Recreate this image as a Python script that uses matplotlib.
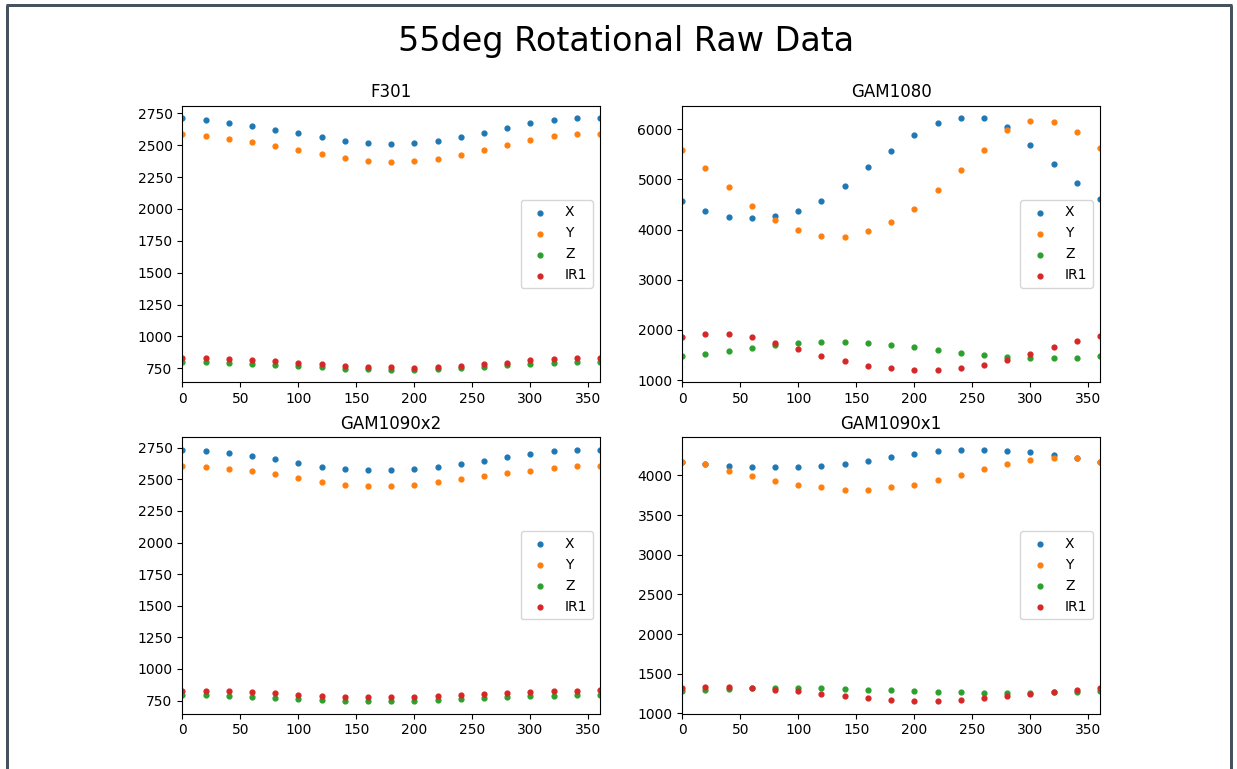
import numpy as np
import matplotlib
matplotlib.use('Agg')
import matplotlib.pyplot as plt
from matplotlib.lines import Line2D

# angle of rotation (deg)
angles = np.arange(0, 361, 20)

# F301
f301_x = [2711, 2695, 2671, 2650, 2619, 2595, 2564, 2532, 2517, 2509,
          2517, 2532, 2564, 2595, 2635, 2671, 2695, 2711, 2711]
f301_y = [2587, 2572, 2548, 2525, 2493, 2462, 2433, 2401, 2378, 2370,
          2378, 2394, 2425, 2462, 2501, 2540, 2572, 2587, 2587]
f301_z = [803, 803, 795, 787, 779, 771, 763, 748, 748, 740,
          740, 748, 755, 763, 779, 787, 795, 803, 803]
f301_ir = [834, 834, 826, 818, 808, 795, 787, 771, 763, 763,
           755, 763, 771, 787, 795, 818, 826, 834, 834]

# GAM1080
g1080_x = [4579, 4378, 4257, 4237, 4278, 4378, 4579, 4874, 5249, 5564,
           5886, 6121, 6221, 6221, 6047, 5685, 5310, 4934, 4613]
g1080_y = [5591, 5229, 4854, 4479, 4184, 3983, 3882, 3862, 3963, 4144,
           4418, 4794, 5189, 5591, 5987, 6161, 6141, 5946, 5625]
g1080_z = [1483, 1523, 1583, 1644, 1704, 1737, 1758, 1758, 1737, 1704,
           1664, 1603, 1543, 1503, 1463, 1443, 1443, 1443, 1483]
g1080_ir = [1858, 1918, 1918, 1858, 1737, 1624, 1483, 1382, 1282, 1242,
            1208, 1208, 1242, 1302, 1402, 1523, 1664, 1778, 1879]

# GAM1090x2
g1090x2_x = [2734, 2726, 2710, 2687, 2663, 2631, 2599, 2584, 2576, 2576,
             2584, 2599, 2623, 2647, 2679, 2702, 2726, 2734, 2734]
g1090x2_y = [2607, 2599, 2584, 2568, 2539, 2507, 2475, 2459, 2451, 2451,
             2459, 2475, 2499, 2523, 2547, 2568, 2591, 2607, 2607]
g1090x2_z = [792, 792, 784, 776, 768, 761, 753, 745, 745, 745,
             745, 753, 761, 768, 776, 784, 784, 792, 792]
g1090x2_ir = [824, 824, 824, 816, 808, 792, 784, 776, 776, 776,
              776, 784, 792, 800, 808, 816, 824, 824, 832]

# GAM1090x1
g1090x1_x = [4173, 4147, 4122, 4109, 4109, 4109, 4122, 4147, 4185, 4236,
             4274, 4311, 4324, 4324, 4311, 4299, 4261, 4223, 4173]
g1090x1_y = [4173, 4147, 4059, 3996, 3933, 3886, 3849, 3823, 3823, 3849,
             3886, 3945, 4008, 4084, 4147, 4198, 4223, 4223, 4173]
g1090x1_z = [1282, 1294, 1307, 1320, 1320, 1320, 1320, 1307, 1294, 1294,
             1282, 1269, 1269, 1256, 1256, 1256, 1269, 1269, 1282]
g1090x1_ir = [1320, 1332, 1332, 1320, 1294, 1282, 1244, 1219, 1193, 1172,
              1155, 1155, 1172, 1193, 1219, 1244, 1269, 1294, 1320]

titles = ['F301', 'GAM1080', 'GAM1090x2', 'GAM1090x1']
sensors = [
    (f301_x, f301_y, f301_z, f301_ir),
    (g1080_x, g1080_y, g1080_z, g1080_ir),
    (g1090x2_x, g1090x2_y, g1090x2_z, g1090x2_ir),
    (g1090x1_x, g1090x1_y, g1090x1_z, g1090x1_ir),
]
labels = ['X', 'Y', 'Z', 'IR1']

fig, axes = plt.subplots(2, 2, figsize=(12.37, 7.69), dpi=100)
fig.subplots_adjust(left=0.1474, right=0.8892, top=0.8626, bottom=0.0719,
                    wspace=0.197, hspace=0.199)

for ax, title, series in zip(axes.flat, titles, sensors):
    for vals, lab in zip(series, labels):
        ax.scatter(angles, vals, s=12, label=lab)
    ax.set_title(title)
    ax.set_xlim(0, 360)
    ax.legend(loc='center right')

fig.suptitle('55deg Rotational Raw Data', fontsize=24, x=0.506, y=0.967)

# screenshot frame
frame_col = '#46535e'
lw = 3 * 72 / 100
fig.add_artist(Line2D([7.5 / 1237, 7.5 / 1237], [0, 1 - 4.5 / 769],
                      color=frame_col, lw=lw, solid_capstyle='butt'))
fig.add_artist(Line2D([1230.5 / 1237, 1230.5 / 1237], [0, 1 - 4.5 / 769],
                      color=frame_col, lw=lw, solid_capstyle='butt'))
fig.add_artist(Line2D([6 / 1237, 1232 / 1237], [1 - 4.5 / 769, 1 - 4.5 / 769],
                      color=frame_col, lw=lw, solid_capstyle='butt'))

fig.savefig('out.png', dpi=100)
